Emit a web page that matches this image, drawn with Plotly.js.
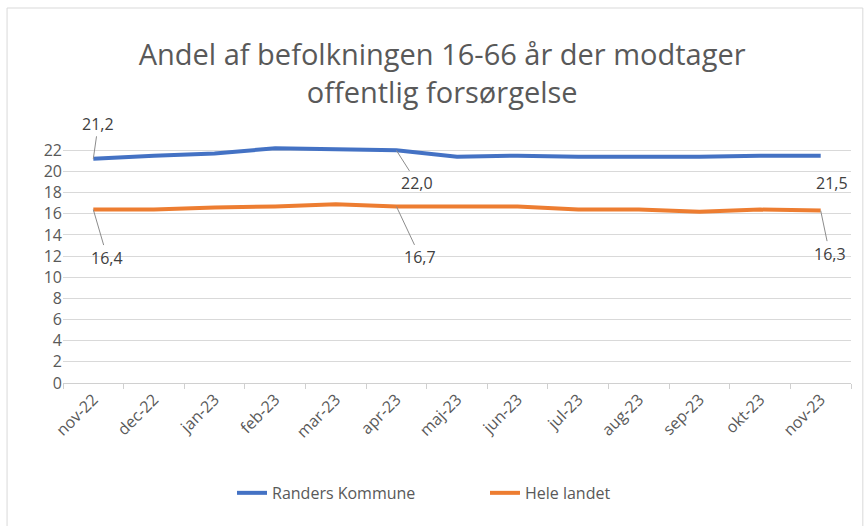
<!DOCTYPE html>
<html>
<head>
<meta charset="utf-8">
<script src="https://cdn.plot.ly/plotly-3.0.1.min.js"></script>
<style>html,body{margin:0;padding:0;background:#fff;}#chart{width:867px;height:526px;}</style>
</head>
<body>
<div id="chart"></div>
<script>
const months = ["nov-22","dec-22","jan-23","feb-23","mar-23","apr-23","maj-23","jun-23","jul-23","aug-23","sep-23","okt-23","nov-23"];
const randers = [21.2,21.5,21.7,22.2,22.1,22.0,21.4,21.5,21.4,21.4,21.4,21.5,21.5];
const heleLandet = [16.4,16.4,16.6,16.7,16.9,16.7,16.7,16.7,16.4,16.4,16.2,16.4,16.3];
const seriesNames = ["Randers Kommune","Hele landet"];
const yTicks = [0,2,4,6,8,10,12,14,16,18,20,22];

const FONT = "Open Sans, Liberation Sans, sans-serif";
const fmt = v => v.toFixed(1).replace('.', ',');
const labelFont = {family:FONT, size:16, color:"#404040"};
function lab(series, i, ax, ay, arrow){
  return {x: months[i], y: series[i], xref:'x', yref:'y', text: fmt(series[i]),
    showarrow: true, arrowhead: 0, arrowwidth: 1, arrowcolor: arrow ? '#8c8c8c' : 'rgba(0,0,0,0)',
    ax: ax, ay: ay, font: labelFont, standoff: 0, startstandoff: 0};
}

const traces = [
  {x: months, y: randers, name: seriesNames[0], type:'scatter', mode:'lines',
   line:{color:'#4472C4', width:4}, legend:'legend'},
  {x: months, y: heleLandet, name: seriesNames[1], type:'scatter', mode:'lines',
   line:{color:'#ED7D31', width:4}, legend:'legend2'}
];

const legendFont = {family:FONT, size:16, color:"#595959"};
const layout = {
  width: 867, height: 526,
  paper_bgcolor:'#fff', plot_bgcolor:'#fff',
  margin:{l:63, r:16, t:144, b:143},
  title:{text:"Andel af befolkningen 16-66 år der modtager<br>offentlig forsørgelse",
    font:{family:FONT, size:29, color:"#595959"},
    x:0.51, xanchor:'center', y:0.876, yanchor:'middle'},
  xaxis:{type:'category', range:[-0.5,12.5], tickson:'boundaries', ticks:'outside', ticklen:5,
    tickcolor:'#d0d0d0', showline:true, linecolor:'#d0d0d0', linewidth:1, showgrid:false,
    tickangle:-45, tickfont:{family:FONT, size:16, color:"#595959"},
    fixedrange:true},
  yaxis:{range:[0,22.6], tickvals:yTicks, ticktext: yTicks.map(String), showgrid:true, gridcolor:'#d9d9d9',
    zeroline:false, showline:false, ticks:'', tickfont:{family:FONT, size:16, color:"#595959"},
    fixedrange:true},
  showlegend:true,
  legend:{orientation:'h', x:0.2145, xanchor:'left', y:-0.46, yanchor:'middle', font:legendFont},
  legend2:{orientation:'h', x:0.5355, xanchor:'left', y:-0.46, yanchor:'middle', font:legendFont},
  annotations:[
    lab(randers, 0, 5, -35, true),
    lab(randers, 5, 21, 33, true),
    lab(randers, 12, 11, 27, false),
    lab(heleLandet, 0, 14, 48, true),
    lab(heleLandet, 5, 24, 51, true),
    lab(heleLandet, 12, 9, 43, true)
  ],
  shapes:[{type:'rect', xref:'paper', yref:'paper', x0:-0.071, x1:1.015, y0:-0.7, y1:1.569,
    line:{color:'#d9d9d9', width:1}, fillcolor:'rgba(0,0,0,0)'}]
};

Plotly.newPlot('chart', traces, layout, {displayModeBar:false, staticPlot:true});
</script>
</body>
</html>
